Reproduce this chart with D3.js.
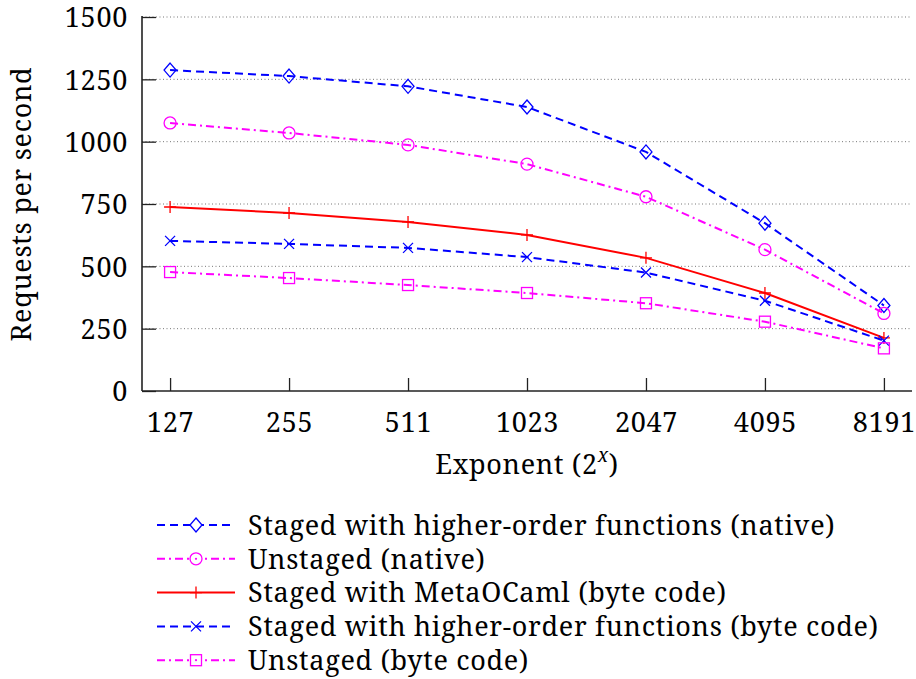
<!DOCTYPE html>
<html>
<head>
<meta charset="utf-8">
<script src="https://cdn.jsdelivr.net/npm/d3@7"></script>
<style>
  body { margin: 0; background: #fff; }
</style>
</head>
<body>
<svg id="chart" width="916" height="679"></svg>
<script>
// values
var exponents = ["127", "255", "511", "1023", "2047", "4095", "8191"];
var yTicks = [0, 250, 500, 750, 1000, 1250, 1500];

var hofNative = [1287, 1263, 1222, 1139, 959, 673, 343];
var unstagedNative = [1075, 1035, 987, 910, 779, 567, 311];
var metaOcamlByte = [738, 714, 678, 626, 534, 393, 213];
var hofByte = [602, 590, 574, 537, 475, 362, 202];
var unstagedByte = [477, 453, 425, 393, 352, 278, 171];

var seriesNames = [
	"Staged with higher-order functions (native)",
	"Unstaged (native)",
	"Staged with MetaOCaml (byte code)",
	"Staged with higher-order functions (byte code)",
	"Unstaged (byte code)"
];

(function() {
	var series = [
		{ name: seriesNames[0], values: hofNative, color: "#0000ff", dash: "8,5", mark: "diamond" },
		{ name: seriesNames[1], values: unstagedNative, color: "#ff00ff", dash: "8,4,2,4", mark: "circle" },
		{ name: seriesNames[2], values: metaOcamlByte, color: "#ff0000", dash: null, mark: "plus" },
		{ name: seriesNames[3], values: hofByte, color: "#0000ff", dash: "8,5", mark: "cross" },
		{ name: seriesNames[4], values: unstagedByte, color: "#ff00ff", dash: "8,4,2,4", mark: "square" }
	];

	var svg = d3.select("#chart");
	var plotLeft = 142, plotRight = 912, plotTop = 17, plotBottom = 391;
	var font = "'Noto Serif', serif";
	var fs = "27px", ls = "0.7px";

	var x = d3.scalePoint().domain(exponents).range([plotLeft, plotRight]).padding(0.236);
	var y = d3.scaleLinear().domain([0, 1500]).range([plotBottom, plotTop]);

	// dotted grid
	svg.append("g").selectAll("line").data(yTicks.slice(1)).enter().append("line")
		.attr("x1", plotLeft).attr("x2", plotRight)
		.attr("y1", function(d) { return y(d); }).attr("y2", function(d) { return y(d); })
		.attr("stroke", "#777").attr("stroke-width", 1).attr("stroke-dasharray", "1,2.5");

	// y axis: ticks point inward
	var yAxis = svg.append("g").attr("transform", "translate(" + plotLeft + ",0)")
		.call(d3.axisRight(y).tickValues(yTicks).tickSize(14).tickFormat(d3.format("d")));
	yAxis.select(".domain").remove();
	yAxis.selectAll(".tick line").attr("stroke", "#222").attr("stroke-width", 1.3);
	yAxis.selectAll(".tick text").attr("x", -14).attr("text-anchor", "end")
		.attr("dy", "0.36em").style("font-family", font).style("font-size", fs).style("letter-spacing", ls);

	var xAxis = svg.append("g").attr("transform", "translate(0," + plotBottom + ")")
		.call(d3.axisTop(x).tickSize(13));
	xAxis.select(".domain").remove();
	xAxis.selectAll(".tick line").attr("stroke", "#222").attr("stroke-width", 1.3);
	xAxis.selectAll(".tick text").attr("y", 41).attr("dy", 0).style("font-family", font)
		.style("font-size", fs).style("letter-spacing", ls);

	// axis lines
	svg.append("line").attr("x1", plotLeft).attr("x2", plotLeft).attr("y1", plotTop - 1).attr("y2", plotBottom)
		.attr("stroke", "#222").attr("stroke-width", 1.6);
	svg.append("line").attr("x1", plotLeft).attr("x2", plotRight).attr("y1", plotBottom).attr("y2", plotBottom)
		.attr("stroke", "#222").attr("stroke-width", 1.6);

	// axis titles
	svg.append("text").attr("transform", "translate(31," + ((plotTop + plotBottom) / 2) + ") rotate(-90)")
		.attr("text-anchor", "middle").style("font-family", font).style("font-size", fs).style("letter-spacing", ls)
		.text("Requests per second");
	var xt = svg.append("text").attr("x", 527).attr("y", 474)
		.attr("text-anchor", "middle").style("font-family", font).style("font-size", fs).style("letter-spacing", ls);
	xt.append("tspan").text("Exponent (2");
	xt.append("tspan").attr("dy", -12).style("font-size", "19px").style("font-style", "italic").text("x");
	xt.append("tspan").attr("dy", 12).text(")");

	function drawMark(g, kind, cx, cy, color, legend) {
		var s = 6;
		if (kind === "diamond") {
			g.append("path").attr("d", "M" + cx + "," + (cy - 7) + "L" + (cx + 6) + "," + cy + "L" + cx + "," + (cy + 7) + "L" + (cx - 6) + "," + cy + "Z")
				.attr("fill", legend ? "#fff" : "none").attr("stroke", color).attr("stroke-width", 1.3);
		} else if (kind === "circle") {
			g.append("circle").attr("cx", cx).attr("cy", cy).attr("r", 6)
				.attr("fill", legend ? "#fff" : "none").attr("stroke", color).attr("stroke-width", 1.3);
		} else if (kind === "square") {
			g.append("rect").attr("x", cx - 5.5).attr("y", cy - 5.5).attr("width", 11).attr("height", 11)
				.attr("fill", legend ? "#fff" : "none").attr("stroke", color).attr("stroke-width", 1.3);
		} else if (kind === "plus") {
			g.append("path").attr("d", "M" + cx + "," + (cy - s) + "V" + (cy + s) + "M" + (cx - s) + "," + cy + "H" + (cx + s))
				.attr("stroke", color).attr("stroke-width", 1.3);
		} else if (kind === "cross") {
			g.append("path").attr("d", "M" + (cx - 5) + "," + (cy - 5) + "L" + (cx + 5) + "," + (cy + 5) + "M" + (cx - 5) + "," + (cy + 5) + "L" + (cx + 5) + "," + (cy - 5))
				.attr("stroke", color).attr("stroke-width", 1.3);
		}
		if (legend && (kind === "circle" || kind === "square")) {
			g.append("circle").attr("cx", cx).attr("cy", cy).attr("r", 1.1).attr("fill", color);
		}
	}

	var line = d3.line()
		.x(function(d, i) { return x(exponents[i]); })
		.y(function(d) { return y(d); });

	series.forEach(function(s) {
		var g = svg.append("g");
		g.append("path").datum(s.values).attr("d", line)
			.attr("fill", "none").attr("stroke", s.color).attr("stroke-width", 2)
			.attr("stroke-dasharray", s.dash);
		s.values.forEach(function(v, i) {
			drawMark(g, s.mark, x(exponents[i]), y(v), s.color, false);
		});
	});

	// legend
	var legend = svg.append("g");
	series.forEach(function(s, i) {
		var ly = 525 + i * 33.8;
		var g = legend.append("g");
		g.append("line").attr("x1", 157).attr("x2", 235).attr("y1", ly).attr("y2", ly)
			.attr("stroke", s.color).attr("stroke-width", 2).attr("stroke-dasharray", s.dash);
		drawMark(g, s.mark, 196, ly, s.color, true);
		g.append("text").attr("x", 248).attr("y", ly).attr("dy", "0.36em")
			.style("font-family", font).style("font-size", fs).style("letter-spacing", ls).text(s.name);
	});
})();
</script>
</body>
</html>
